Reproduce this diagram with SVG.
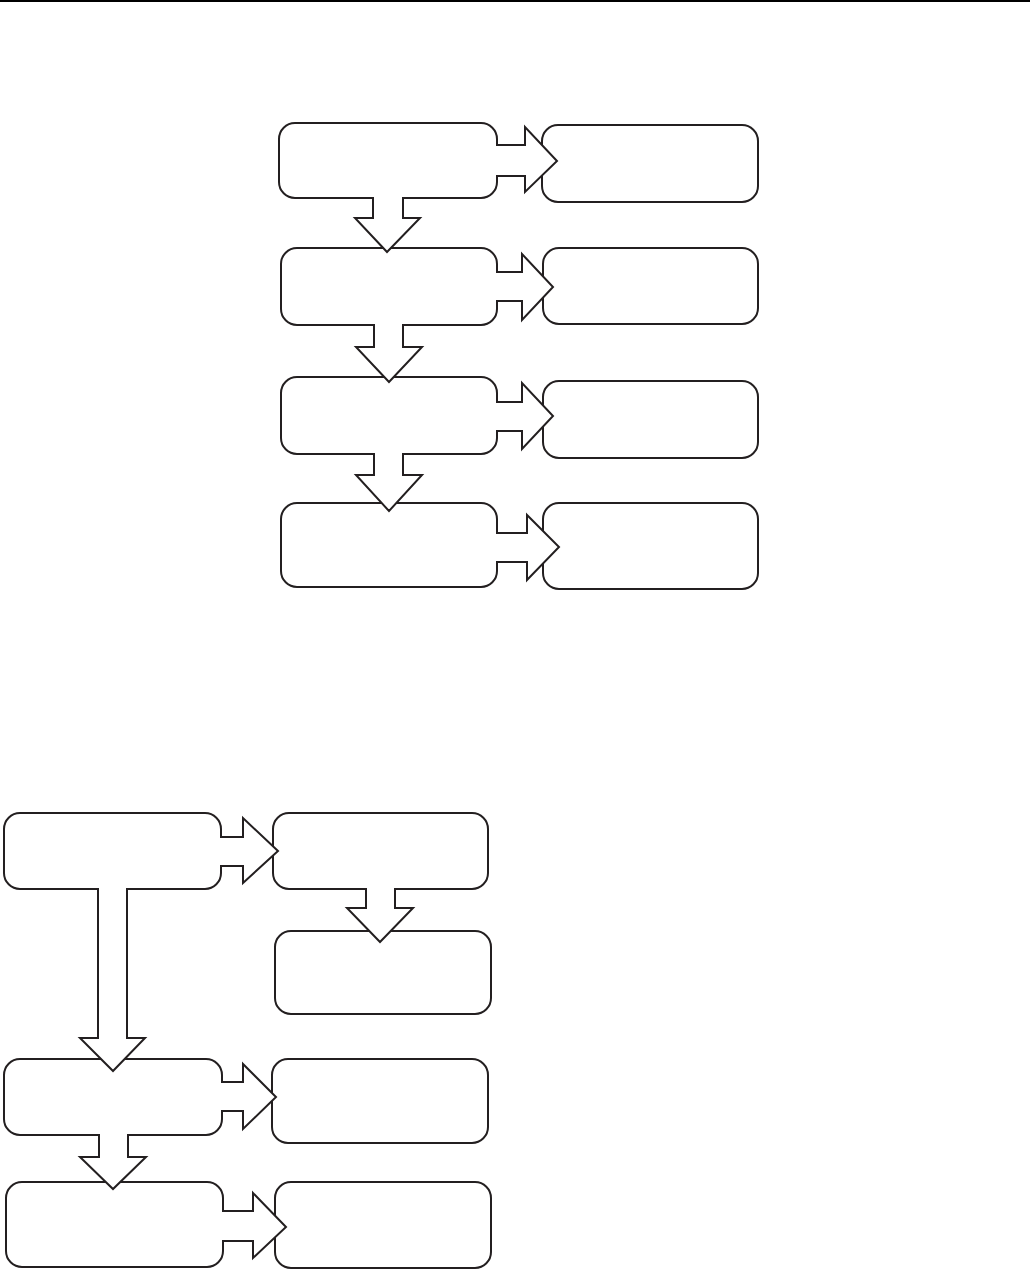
<svg xmlns="http://www.w3.org/2000/svg" width="1030" height="1272" viewBox="0 0 1030 1272">
<style>
.node{fill:#fff;stroke:#231f20;stroke-width:2}
.arr{fill:#fff;stroke:#231f20;stroke-width:2;stroke-linejoin:miter}
</style>
<rect width="1030" height="1272" fill="#fff"/>
<line x1="0" y1="1" x2="1030" y2="1" stroke="#000" stroke-width="2"/>
<g id="nodes">
<g id="a1"><rect class="node" x="279" y="123" width="218" height="75" rx="16"/></g>
<g id="b1"><rect class="node" x="542" y="125" width="216" height="77" rx="16"/></g>
<g id="a2"><rect class="node" x="281" y="248" width="216" height="77" rx="16"/></g>
<g id="b2"><rect class="node" x="543" y="248" width="215" height="76" rx="16"/></g>
<g id="a3"><rect class="node" x="281" y="377" width="216" height="77" rx="16"/></g>
<g id="b3"><rect class="node" x="543" y="381" width="215" height="77" rx="16"/></g>
<g id="a4"><rect class="node" x="281" y="503" width="216" height="84" rx="16"/></g>
<g id="b4"><rect class="node" x="543" y="503" width="215" height="86" rx="16"/></g>
<g id="c1"><rect class="node" x="4" y="813" width="217" height="76" rx="16"/></g>
<g id="d1"><rect class="node" x="273" y="813" width="215" height="76" rx="16"/></g>
<g id="d2"><rect class="node" x="275" y="931" width="216" height="83" rx="16"/></g>
<g id="c2"><rect class="node" x="4" y="1059" width="218" height="76" rx="16"/></g>
<g id="d3"><rect class="node" x="272" y="1059" width="216" height="84" rx="16"/></g>
<g id="c3"><rect class="node" x="6" y="1182" width="217" height="85" rx="16"/></g>
<g id="d4"><rect class="node" x="275" y="1182" width="216" height="86" rx="16"/></g>
</g>
<g id="connectors">
<path class="arr" d="M496,145 L525,145 L525,127 L557,161 L525,192 L525,176 L496,176"/>
<path class="arr" d="M496,272 L522,272 L522,254 L553,287 L522,320 L522,301 L496,301"/>
<path class="arr" d="M496,402 L522,402 L522,383 L553,416 L522,449 L522,431 L496,431"/>
<path class="arr" d="M496,533 L527,533 L527,515 L559,547 L527,580 L527,562 L496,562"/>
<path class="arr" d="M373,197 L373,218 L355,218 L387,252 L420,218 L403,218 L403,197"/>
<path class="arr" d="M374,324 L374,347 L356,347 L389,382 L422,347 L403,347 L403,324"/>
<path class="arr" d="M374,453 L374,475 L356,475 L389,511 L422,475 L403,475 L403,453"/>
<path class="arr" d="M220,837 L243,837 L243,818 L278,851 L243,883 L243,866 L220,866"/>
<path class="arr" d="M221,1082 L243,1082 L243,1064 L276,1097 L243,1129 L243,1111 L221,1111"/>
<path class="arr" d="M222,1211 L253,1211 L253,1193 L286,1227 L253,1258 L253,1241 L222,1241"/>
<path class="arr" d="M366,888 L366,908 L347,908 L380,942 L413,908 L395,908 L395,888"/>
<path class="arr" d="M98,888 L98,1038 L80,1038 L113,1071 L145,1038 L127,1038 L127,888"/>
<path class="arr" d="M99,1134 L99,1157 L80,1157 L113,1189 L146,1157 L128,1157 L128,1134"/>
</g>
</svg>
